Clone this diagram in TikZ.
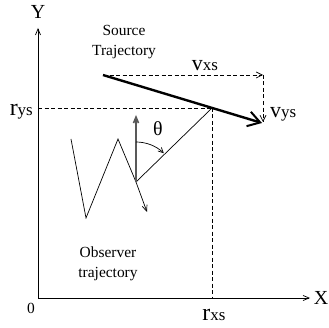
\documentclass[tikz,border=0pt]{standalone}
\usepackage{fontspec}
\setmainfont{Liberation Serif}
\usetikzlibrary{arrows.meta,calc}
\newcommand{\fs}[1]{\fontsize{#1}{#1}\selectfont}
\tikzset{
 axis/.style={-{Straight Barb[length=6bp,width=5bp]},line width=0.7bp},
 dashln/.style={dashed,dash pattern=on 4bp off 2.5bp,line width=0.7bp},
 dasharr/.style={dashln,-{Straight Barb[length=6bp,width=6bp]}},
 srcarr/.style={-{Straight Barb[length=12bp,width=15bp,line width=2bp]},line width=2.4bp},
 obsline/.style={line width=0.7bp},
 headarr/.style={-{Straight Barb[length=6bp,width=5bp]},line width=1.6bp,draw=black!65},
 txt/.style={font=\fs{15.5},inner sep=0pt,align=center},
 biglbl/.style={font=\fs{20},inner sep=0pt}}

\begin{document}
\begin{tikzpicture}[x=1bp,y=1bp]
\useasboundingbox (0,0) rectangle (329,328);
% axes
\coordinate (origin) at (38,30);
\coordinate (ytop) at (38,300);
\coordinate (xend) at (310,30);
\draw[axis] (origin) -- (ytop);
\draw[axis] (origin) -- (xend);
\node[biglbl] (ylab) at (38,316) {Y};
\node[biglbl] (xlab) at (321,30) {X};
\node[txt] (zero) at (31,20) {0};

% source trajectory and its components
\coordinate (srcstart) at (103,253);
\coordinate (srctip) at (262,205);
\coordinate (corner) at (263,253);
\coordinate (hit) at (212,220);
\coordinate (hitx) at (212,30);
\coordinate (hity) at (38,220);
\draw[srcarr] (srcstart) -- (srctip);
\draw[dasharr] (srcstart) -- (corner);
\draw[dasharr] (corner) -- (263,206);
\draw[dashln] (hity) -- (hit);
\draw[dashln] (hit) -- (hitx);

\node[txt] (src) at (124,286) {Source\\[4bp]Trajectory};
\node[inner sep=0pt,anchor=base] (vxs) at (205,258) {\fs{22}v\fs{17}xs};
\node[inner sep=0pt,anchor=base west] (vys) at (270,211) {\fs{22}v\fs{17}ys};
\node[inner sep=0pt,anchor=base east] (rys) at (33,213) {\fs{24}r\fs{17}ys};
\node[inner sep=0pt,anchor=base] (rxs) at (214,8) {\fs{24}r\fs{17}xs};

% observer trajectory
\coordinate (obs) at (136,146);
\coordinate (obstip) at (147,116);
\draw[obsline] (71,189) -- (86,110) -- (118,189) -- (obs);
\draw[obsline,-{Straight Barb[length=6bp,width=5bp]}] (obs) -- (obstip);
\draw[obsline] (obs) -- (hit);
\draw[headarr] (obs) -- (136,213);
\draw[obsline,-{Straight Barb[length=5bp,width=5bp]}] ($(obs)+(0,40)$) arc[start angle=90,end angle=46,radius=40];
\node[txt,font=\fs{20}] (theta) at (158,199) {θ};
\node[txt] (obslab) at (108,64) {Observer\\[5bp]trajectory};
\end{tikzpicture}
\end{document}
